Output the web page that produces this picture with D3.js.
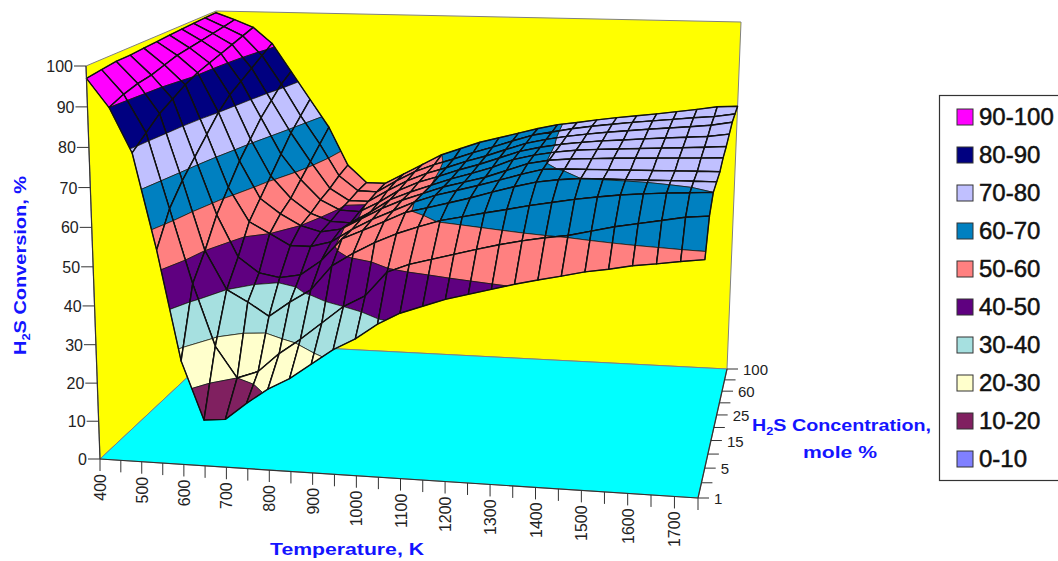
<!DOCTYPE html>
<html>
<head>
<meta charset="utf-8">
<script src="https://cdn.jsdelivr.net/npm/d3@7"></script>
<style>
  html, body { margin: 0; padding: 0; background: #fff; overflow: hidden; }
  text { font-family: "Liberation Sans", Arial, sans-serif; }
</style>
</head>
<body>
<div id="chart"></div>
<script>
const temperatures = [400, 450, 500, 550, 600, 650, 700, 750, 800, 850, 900, 950, 1000, 1050, 1100, 1150, 1200, 1250, 1300, 1350, 1400, 1450, 1500, 1550, 1600, 1650, 1700, 1750];
const concentrations = [1, 3, 5, 10, 15, 20, 25, 40, 60, 80, 100];
const temperatureLabels = [400, 500, 600, 700, 800, 900, 1000, 1100, 1200, 1300, 1400, 1500, 1600, 1700];
const concentrationLabels = [1, 5, 15, 25, 60, 100];
const conversionTicks = [0, 10, 20, 30, 40, 50, 60, 70, 80, 90, 100];

// conversion %, one list per concentration, one value per temperature
const conv1 = [97, 90, 79, 55, 27, 12, 12.5, 17, 21, 24, 28, 32, 35, 39, 42, 44, 46, 47.5, 49, 50.5, 51.8, 53, 54.3, 55.2, 56.3, 57, 57.8, 58.5];
const conv3 = [97.5, 91.5, 82, 63, 44, 28, 20, 22, 27, 31, 35.5, 40, 43, 49.3, 51.5, 53, 54.5, 56, 57.4, 58.6, 59.6, 60.4, 61.7, 63, 64, 65, 66, 66.5];
const conv5 = [98, 92.5, 85, 68, 50, 40, 37, 33.5, 37.5, 41, 47.5, 51, 54, 56.5, 58.5, 60.3, 61.5, 62.7, 63.8, 65, 66, 67, 67.8, 68.5, 69, 69.4, 69.7, 70];
const conv10 = [98, 93, 87, 72, 57, 46, 42, 41, 42, 46, 52, 54.5, 57, 59.6, 61, 62.5, 64, 65.7, 67.3, 68.7, 69.5, 70, 70.1, 70.15, 70.2, 70.3, 70.35, 70.4];
const conv15 = [98.3, 94, 89, 76, 62, 53, 50, 47, 47, 48.5, 52, 55, 57.5, 60, 62, 63.5, 65, 66.6, 68.3, 69.8, 70.1, 70.2, 70.3, 70.4, 70.5, 70.6, 70.7, 70.8];
const conv20 = [98.5, 95, 90.5, 80, 67, 57, 53, 50, 48.5, 49.5, 52.5, 55.5, 58, 60, 62, 63.5, 65, 67, 69, 70.1, 70.6, 70.9, 71.2, 71.4, 71.6, 71.8, 72, 72.3];
const conv25 = [98.8, 95.5, 91.5, 83, 71, 61, 55, 51, 49, 48.8, 52, 55.7, 58, 60, 62, 63.7, 65.5, 67.8, 69.2, 70.2, 70.9, 71.3, 71.6, 71.9, 72.2, 72.5, 72.8, 73.2];
const conv40 = [99, 96, 92.5, 85, 75, 65, 58, 52.5, 49.8, 49.6, 52.5, 56, 58.5, 60.3, 62.3, 64, 66, 68, 69.3, 70.3, 71, 71.6, 72, 72.5, 72.9, 73.3, 73.7, 74.5];
const conv60 = [99.2, 96.5, 93.5, 87, 78, 69, 61, 53.5, 50.2, 50.2, 53.5, 56.5, 58.8, 60.6, 62.6, 64.3, 66.3, 68.2, 69.5, 70.5, 71.3, 72, 72.6, 73.2, 73.7, 74.2, 74.8, 75.8];
const conv80 = [99.4, 97, 94.5, 89, 81, 72, 64, 55, 50.8, 50.7, 54, 57, 59.2, 61, 63, 64.8, 66.7, 68.5, 69.6, 70.7, 71.6, 72.3, 73, 73.6, 74.2, 74.8, 75.3, 76.2];
const conv100 = [99.5, 97.6, 95.5, 91, 83, 75, 67, 56, 51, 51, 54, 57, 60, 62, 64, 65.5, 67, 68.5, 69.8, 70.6, 71.5, 72.3, 73, 73.7, 74.5, 75.3, 76.2, 76.5];
const conversion = [conv1, conv3, conv5, conv10, conv15, conv20, conv25, conv40, conv60, conv80, conv100];

const bandLabels = ["90-100", "80-90", "70-80", "60-70", "50-60", "40-50", "30-40", "20-30", "10-20", "0-10"];
const bandLows = [90, 80, 70, 60, 50, 40, 30, 20, 10, 0];
const bandColors = ["#ff00ff", "#000080", "#c0c0ff", "#0080c0", "#ff8080", "#5f0080", "#a6e0e0", "#ffffcc", "#802060", "#8080ff"];

const width = 1058;
const height = 561;

const svg = d3
  .select("#chart")
  .append("svg")
  .attr("width", width)
  .attr("height", height);

const uScale = d3.scalePoint().domain(temperatures).range([0, 1]);
const wScale = d3.scalePoint().domain(concentrations).range([0, 1]);
const zScale = d3.scaleLinear().domain([0, 100]).range([0, 1]);

// box corners on screen, FL = front left, BR = back right
const floorFL = [100, 459], floorFR = [698, 498], floorBR = [727, 369], floorBL = [224, 343];
const topFL = [86, 66], topFR = [710, 83], topBR = [741, 22], topBL = [216, 11];

// unit square to quad, perspective
function quadMap(p0, p1, p2, p3) {
  const sx = p0[0] - p1[0] + p2[0] - p3[0];
  const sy = p0[1] - p1[1] + p2[1] - p3[1];
  const dx1 = p1[0] - p2[0], dx2 = p3[0] - p2[0];
  const dy1 = p1[1] - p2[1], dy2 = p3[1] - p2[1];
  const den = dx1 * dy2 - dx2 * dy1;
  const g = (sx * dy2 - dx2 * sy) / den;
  const h = (dx1 * sy - sx * dy1) / den;
  const a = p1[0] - p0[0] + g * p1[0];
  const b = p3[0] - p0[0] + h * p3[0];
  const d = p1[1] - p0[1] + g * p1[1];
  const e = p3[1] - p0[1] + h * p3[1];
  return (u, w) => {
    const q = g * u + h * w + 1;
    return [(a * u + b * w + p0[0]) / q, (d * u + e * w + p0[1]) / q];
  };
}

const floorMap = quadMap(floorFL, floorFR, floorBR, floorBL);
const topMap = quadMap(topFL, topFR, topBR, topBL);

function project(temp, conc, value) {
  const u = uScale(temp), w = wScale(conc), z = zScale(value);
  const a = floorMap(u, w), b = topMap(u, w);
  // vertical spacing is a little tighter near the floor
  const t = z / (1 + 0.045 * (1 - z));
  return [a[0] + (b[0] - a[0]) * t, a[1] + (b[1] - a[1]) * t];
}

const line = d3.line();
const closed = (pts) => line(pts) + "Z";

// walls and floor
svg.append("path").attr("d", closed([floorFL, topFL, topBL, floorBL])).attr("fill", "#ffff00").attr("stroke", "#808080");
svg.append("path").attr("d", closed([floorBL, topBL, topBR, floorBR])).attr("fill", "#ffff00").attr("stroke", "#808080");
svg.append("path").attr("d", closed([floorFL, floorFR, floorBR, floorBL])).attr("fill", "#00ffff").attr("stroke", "#808080");

// keep the part of a polygon on one side of a level
function clipPoly(poly, level, keepAbove) {
  const inside = (p) => (keepAbove ? p.v >= level : p.v <= level);
  const out = [];
  poly.forEach((p, i) => {
    const q = poly[(i + 1) % poly.length];
    if (inside(p)) out.push(p);
    if (inside(p) !== inside(q)) {
      const t = (level - p.v) / (q.v - p.v);
      out.push({ x: p.x + (q.x - p.x) * t, y: p.y + (q.y - p.y) * t, v: level });
    }
  });
  return out;
}

// back left corner is farthest, paint from there to the front right
const shapes = [];
for (let j = concentrations.length - 2; j >= 0; j--) {
  for (let i = 0; i < temperatures.length - 1; i++) {
    const cell = [[i, j], [i + 1, j], [i + 1, j + 1], [i, j + 1]].map(([a, b]) => {
      const v = conversion[b][a];
      const p = project(temperatures[a], concentrations[b], v);
      return { x: p[0], y: p[1], v: v };
    });
    bandLows.forEach((low, k) => {
      const part = clipPoly(clipPoly(cell, low, true), low + 10, false);
      if (part.length > 2) {
        shapes.push({ d: closed(part.map((p) => [p.x, p.y])), fill: bandColors[k], sw: 0.7 });
      }
    });
    shapes.push({ d: closed(cell.map((p) => [p.x, p.y])), fill: "none", sw: 1.4 });
  }
}

svg
  .append("g")
  .selectAll("path")
  .data(shapes)
  .join("path")
  .attr("d", (d) => d.d)
  .attr("fill", (d) => d.fill)
  .attr("stroke", "#111")
  .attr("stroke-width", (d) => d.sw)
  .attr("stroke-linejoin", "round");

// conversion axis
const axisColor = "#333";
const zAxis = svg.append("g");
zAxis.append("path").attr("d", line([floorFL, topFL])).attr("stroke", axisColor).attr("stroke-width", 1.2);
conversionTicks.forEach((v) => {
  const p = project(temperatures[0], concentrations[0], v);
  zAxis.append("line").attr("x1", p[0] - 12).attr("x2", p[0]).attr("y1", p[1]).attr("y2", p[1]).attr("stroke", axisColor);
  zAxis
    .append("text")
    .attr("x", p[0] - 13)
    .attr("y", p[1] + 6)
    .attr("text-anchor", "end")
    .attr("font-size", 16)
    .attr("fill", "#222")
    .text(v);
});

// temperature axis
const xAxis = svg.append("g");
xAxis.append("path").attr("d", line([floorFL, floorFR])).attr("stroke", axisColor).attr("stroke-width", 1.2);
temperatures.forEach((t) => {
  const p = project(t, concentrations[0], 0);
  xAxis.append("line").attr("x1", p[0]).attr("x2", p[0]).attr("y1", p[1]).attr("y2", p[1] + 12).attr("stroke", axisColor);
  if (temperatureLabels.includes(t)) {
    xAxis
      .append("text")
      .attr("transform", `translate(${p[0] + 6},${p[1] + 15}) rotate(-90)`)
      .attr("text-anchor", "end")
      .attr("font-size", 16)
      .attr("fill", "#222")
      .text(t);
  }
});

// concentration axis
const yAxis = svg.append("g");
yAxis.append("path").attr("d", line([floorFR, floorBR])).attr("stroke", axisColor).attr("stroke-width", 1.2);
concentrations.forEach((c) => {
  const p = project(temperatures[temperatures.length - 1], c, 0);
  yAxis.append("line").attr("x1", p[0]).attr("x2", p[0] + 11).attr("y1", p[1]).attr("y2", p[1]).attr("stroke", axisColor);
  if (concentrationLabels.includes(c)) {
    yAxis
      .append("text")
      .attr("x", p[0] + 16)
      .attr("y", p[1] + 6)
      .attr("font-size", 15)
      .attr("fill", "#222")
      .text(c);
  }
});

// axis titles
const blue = "#1414ff";
function h2sTitle(text, rest, x, y, length) {
  text
    .attr("x", x)
    .attr("y", y)
    .attr("font-size", 17)
    .attr("font-weight", "bold")
    .attr("fill", blue)
    .attr("textLength", length)
    .attr("lengthAdjust", "spacingAndGlyphs");
  text.append("tspan").text("H");
  text.append("tspan").attr("dy", 4).attr("font-size", 11).text("2");
  text.append("tspan").attr("dy", -4).text(rest);
}

h2sTitle(
  svg.append("text").attr("transform", "translate(26,355) rotate(-90)"),
  "S Conversion, %", 0, 0, 179
);
h2sTitle(svg.append("text"), "S Concentration,", 752, 431, 179);

svg
  .append("text")
  .attr("x", 803)
  .attr("y", 458)
  .attr("font-size", 17)
  .attr("font-weight", "bold")
  .attr("fill", blue)
  .attr("textLength", 74)
  .attr("lengthAdjust", "spacingAndGlyphs")
  .text("mole %");

svg
  .append("text")
  .attr("x", 270)
  .attr("y", 555)
  .attr("font-size", 17)
  .attr("font-weight", "bold")
  .attr("fill", blue)
  .attr("textLength", 154)
  .attr("lengthAdjust", "spacingAndGlyphs")
  .text("Temperature, K");

// legend
const legendY = d3.scalePoint().domain(bandLabels).range([117, 459]);

svg
  .append("rect")
  .attr("x", 939.5)
  .attr("y", 95.5)
  .attr("width", 130)
  .attr("height", 385)
  .attr("fill", "#fff")
  .attr("stroke", "#333")
  .attr("stroke-width", 1.2);

const legend = svg
  .append("g")
  .selectAll("g")
  .data(bandLabels)
  .join("g")
  .attr("transform", (d) => `translate(957,${legendY(d)})`);

legend
  .append("rect")
  .attr("y", -8)
  .attr("width", 16)
  .attr("height", 16)
  .attr("fill", (d, i) => bandColors[i])
  .attr("stroke", "#333");

legend
  .append("text")
  .attr("x", 22)
  .attr("y", 8)
  .attr("font-size", 24)
  .attr("fill", "#111")
  .attr("stroke", "#111")
  .attr("stroke-width", 0.5)
  .text((d) => d);
</script>
</body>
</html>
